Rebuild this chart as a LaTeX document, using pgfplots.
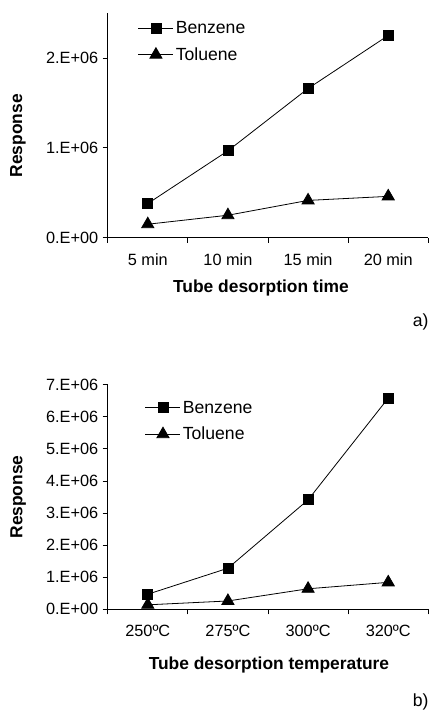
\documentclass[border=0pt]{standalone}
\usepackage{pgfplots}
\pgfplotsset{compat=1.18}
\usepackage{fontspec}
\setmainfont{Liberation Sans}

\tikzset{lbl/.style={font=\bfseries\fontsize{17.4bp}{20bp}\selectfont, anchor=center}}
\pgfplotsset{
 mystyle/.style={
  scale only axis, width=320.6bp, height=224.7bp,
  axis lines=left, axis line style={-, line width=0.8bp},
  xmin=0.5, xmax=4.5, ymin=0,
  xtick={1,2,3,4}, major tick length=0pt, minor tick length=5bp, tick align=outside,
  minor xtick={0.5,1.5,2.5,3.5,4.5},
  tick style={line width=0.8bp, black},
  scaled y ticks=false,
  tick label style={font=\fontsize{16.3bp}{19bp}\selectfont},
  xticklabel style={yshift=-12bp},
  yticklabel style={xshift=-6bp},
  legend style={draw=none, fill=none, inner sep=0pt, font=\fontsize{17.6bp}{20bp}\selectfont, row sep=8.5bp, anchor=north west, nodes={inner sep=2bp}},
  legend cell align=left,
  legend image code/.code={\draw[mark repeat=2,mark phase=2,##1] plot coordinates {(0bp,0bp)(17.5bp,0bp)(35bp,0bp)};},
 },
 benz/.style={black, line width=0.8bp, mark=square*, mark size=5bp, mark options={solid, fill=black}},
 tol/.style={black, line width=0.8bp, mark=triangle*, mark size=7bp, mark options={solid, fill=black}},
}

\begin{document}
\begin{tikzpicture}[x=1bp,y=1bp]
\useasboundingbox (0,0) rectangle (436,-711);

\begin{axis}[mystyle,
  at={(107.7bp,-237.7bp)}, anchor=south west,
  ymax=2500000,
  ytick={0,1000000,2000000},
  yticklabels={0.E+00,1.E+06,2.E+06},
  minor ytick={0,1000000,2000000},
  xticklabels={5 min,10 min,15 min,20 min},
  xlabel={Tube desorption time},
  ylabel={Response},
  xlabel style={lbl, at={(axis description cs:0.478,0)}, yshift=-50.3bp},
  ylabel style={lbl, at={(axis description cs:-0.2798,0.4535)}},
  legend style={at={(axis description cs:0.094,0.972)}},
]
\addplot[benz] coordinates {(1,380000) (2,967000) (3,1660000) (4,2250000)};
\addlegendentry{Benzene}
\addplot[tol] coordinates {(1,150000) (2,250000) (3,415000) (4,460000)};
\addlegendentry{Toluene}
\end{axis}

\begin{axis}[mystyle,
  at={(107.7bp,-609.3bp)}, anchor=south west,
  ymax=7000000,
  ytick={0,1000000,2000000,3000000,4000000,5000000,6000000,7000000},
  yticklabels={0.E+00,1.E+06,2.E+06,3.E+06,4.E+06,5.E+06,6.E+06,7.E+06},
  minor ytick={0,1000000,2000000,3000000,4000000,5000000,6000000,7000000},
  xticklabels={250ºC,275ºC,300ºC,320ºC},
  xlabel={Tube desorption temperature},
  ylabel={Response},
  xlabel style={lbl, at={(axis description cs:0.503,0)}, yshift=-55.2bp},
  ylabel style={lbl, at={(axis description cs:-0.2792,0.5)}},
  legend style={at={(axis description cs:0.116,0.937)}},
]
\addplot[benz] coordinates {(1,470000) (2,1280000) (3,3410000) (4,6580000)};
\addlegendentry{Benzene}
\addplot[tol] coordinates {(1,140000) (2,260000) (3,640000) (4,840000)};
\addlegendentry{Toluene}
\end{axis}

\node[anchor=east, font=\fontsize{17.6bp}{20bp}\selectfont] at (432,-322) {a)};
\node[anchor=east, font=\fontsize{17.6bp}{20bp}\selectfont] at (432,-701.7) {b)};
\end{tikzpicture}
\end{document}
